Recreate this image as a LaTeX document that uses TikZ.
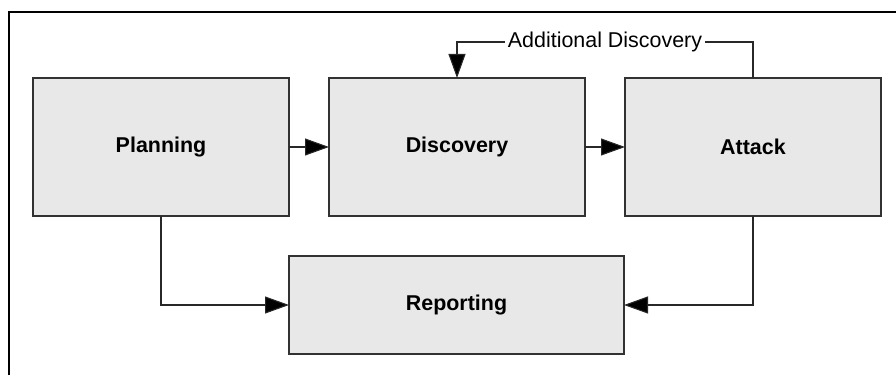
\documentclass[tikz,border=0pt]{standalone}
\usepackage{fontspec}
\setmainfont{Liberation Sans}
\usetikzlibrary{arrows.meta,calc}
\tikzset{
	stage/.style={
			draw={rgb,255:red,50;green,50;blue,50}, line width=0.6pt,
			fill={rgb,255:red,232;green,232;blue,232},
			inner sep=0pt, outer sep=0pt,
			font=\fontsize{12.2}{14}\selectfont\bfseries
		},
	flow/.style={
			draw={rgb,255:red,40;green,40;blue,40}, line width=0.6pt,
			-{Triangle[length=0.48cm,width=0.34cm,fill=black]}
		}
}

\begin{document}
\begin{tikzpicture}
        \useasboundingbox (0, 0) rectangle (17.92, 7.5);
        \draw [line width=1.1pt] (0.18, 0) -- (0.18, 7.26) -- (17.92, 7.26);
        \node [stage, minimum width=5.12cm, minimum height=2.76cm] (plan) at (3.22, 4.56) {Planning};
        \node [stage, minimum width=5.12cm, minimum height=2.76cm] (disc) at (9.14, 4.56) {Discovery};
        \node [stage, minimum width=5.12cm, minimum height=2.76cm] (attack) at (15.06, 4.56) {Attack};
        \node [stage, minimum width=6.7cm, minimum height=1.96cm] (report) at (9.13, 1.4) {Reporting};
        \draw [flow] (plan) -- (disc);
        \draw [flow] (disc) -- (attack);
        \draw [flow] (plan.south) |- (report.west);
        \draw [flow] (attack.south) |- (report.east);
        \coordinate (loop) at (15.06, 6.66);
        \draw [flow] (attack.north) -- (loop) -- (loop -| disc.north)
            node [midway, fill=white, inner sep=1.5pt, font=\fontsize{12.2}{14}\selectfont] {Additional Discovery}
            -- (disc.north);
    \end{tikzpicture}
\end{document}
